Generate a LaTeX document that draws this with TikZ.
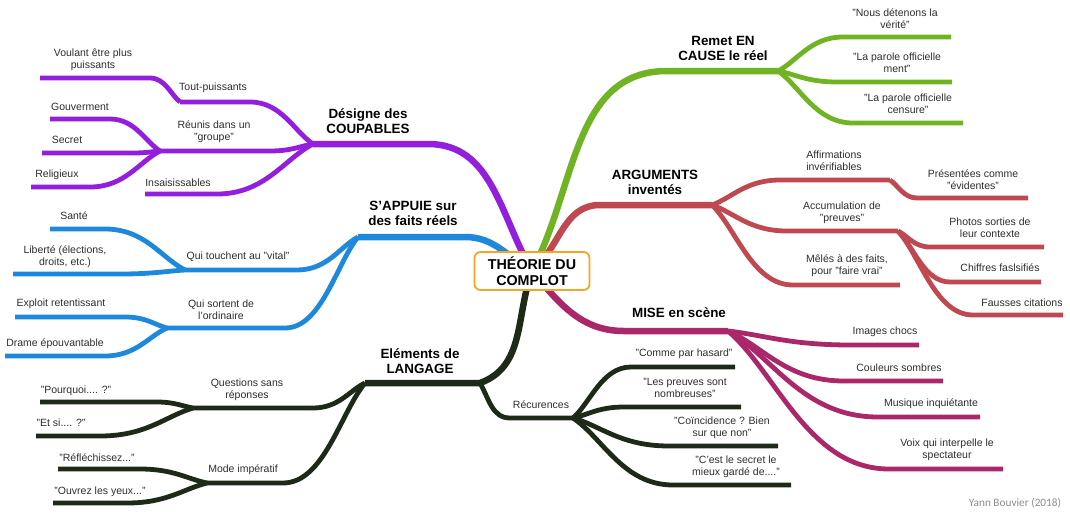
\documentclass[tikz,border=0pt]{standalone}
\usepackage{fontspec}
\setmainfont{Liberation Sans}
\newfontfamily\signfont{Carlito}
\usetikzlibrary{calc}
\definecolor{cCoup}{RGB}{148,30,222}
\definecolor{cAppui}{RGB}{30,136,220}
\definecolor{cLang}{RGB}{30,42,24}
\definecolor{cRemet}{RGB}{112,180,35}
\definecolor{cArgu}{RGB}{192,72,80}
\definecolor{cMise}{RGB}{170,40,105}
\definecolor{cBox}{RGB}{245,165,35}
\definecolor{txt}{RGB}{45,45,45}
\tikzset{
	main/.style={line width=6.5pt},
	twig/.style={line width=4.8pt},
	fan/.style={to path={let \p1=(\tikztostart), \p2=(\tikztotarget) in
		.. controls ($(\p1)!0.3!(\p2)$) and ({0.5*\x1+0.5*\x2},\y2) .. (\p2)}},
	lbl/.style={font=\fontsize{10.5}{12}\selectfont,align=center,text=txt,inner sep=0pt},
	head/.style={font=\bfseries\fontsize{13.4}{15}\selectfont,align=center,inner sep=0pt},
	centre/.style={draw=cBox,line width=1.8pt,rounded corners=6pt,fill=white,minimum width=115pt,minimum height=38pt,align=center,font=\bfseries\fontsize{14.3}{15.5}\selectfont}
}
\begin{document}
\begin{tikzpicture}[x=1pt,y=-1pt]
	\useasboundingbox (0,0) rectangle (1070,517);
	\coordinate (C) at (532,271);
	% horizontal part of every branch: name / near x / far x / y
	\foreach \nm/\xa/\xb/\yy in {coup/428/313/144, tout/250/180/102, volt/150/40/78, reun/270/160/151, gouv/110/50/119, secr/133/42/153, reli/90/31/187, insa/217/145/194,
		appui/465/358/237, vital/297/185/270, sante/105/50/229, liber/120/13/274, ordin/285/167/328, explo/125/15/317, drame/105/5/356,
		lang/480/365/383, recur/510/573/418, comme/631/735/367, preuv/624/741/407, coinc/669/778/446, garde/673/791/485,
		quest/313/193/408, pourq/157/40/402, etsi/100/36/436, mode/283/207/483, refle/140/58/469, ouvr/127/53/503,
		remet/667/778/71, nous/843/951/37, ment/837/952/82, cens/853/963/123,
		argu/600/712/205, affi/780/890/180, pres/917/1028/198, accu/787/898/231, photo/930/1044/247, chif/950/1041/282, faus/973/1063/315, mele/793/900/285,
		mise/624/728/331, img/851/919/345, coul/844/943/381, musi/878/980/417, voix/889/1003/469}{
		\coordinate (\nm a) at (\xa,\yy);
		\coordinate (\nm b) at (\xb,\yy);
	}

	% Désigne des coupables
	\draw[cCoup,main] (C) to[out=120,in=0] (coupa) -- (coupb);
	\foreach \p/\c in {coup/tout,coup/reun,coup/insa,tout/volt,reun/gouv,reun/secr,reun/reli}
		\draw[cCoup,twig] (\p b) to[fan] (\c a) -- (\c b);

	% S'appuie sur des faits reels
	\draw[cAppui,main] (C) to[out=150,in=0] (appuia) -- (appuib);
	\foreach \p/\c in {appui/vital,appui/ordin,vital/sante,vital/liber,ordin/explo,ordin/drame}
		\draw[cAppui,twig] (\p b) to[fan] (\c a) -- (\c b);

	% Elements de langage
	\draw[cLang,main] (C) to[out=-110,in=20] (langa) -- (langb);
	\draw[cLang,twig] (langa) to[out=-60,in=180] (recura) -- (recurb);
	\foreach \c in {comme,preuv,coinc,garde}
		\draw[cLang,twig] (recurb) to[fan] (\c a) -- (\c b);
	\foreach \p/\c in {lang/quest,lang/mode,quest/pourq,quest/etsi,mode/refle,mode/ouvr}
		\draw[cLang,twig] (\p b) to[fan] (\c a) -- (\c b);

	% Remet en cause le reel
	\draw[cRemet,main] (C) to[out=62,in=180] (remeta) -- (remetb);
	\foreach \c in {nous,ment,cens}
		\draw[cRemet,twig] (remetb) to[fan] (\c a) -- (\c b);

	% Arguments inventes
	\draw[cArgu,main] (C) to[out=40,in=180] (argua) -- (argub);
	\foreach \p/\c in {argu/affi,argu/accu,argu/mele,affi/pres,accu/photo,accu/chif,accu/faus}
		\draw[cArgu,twig] (\p b) to[fan] (\c a) -- (\c b);

	% Mise en scene
	\draw[cMise,main] (C) to[out=-50,in=180] (misea) -- (miseb);
	\foreach \c in {img,coul,musi,voix}
		\draw[cMise,twig] (miseb) to[fan] (\c a) -- (\c b);

	\node[centre] (theorie) at (C) {THÉORIE DU\\COMPLOT};

	\node[head] (hcoup) at (368,121) {Désigne des\\COUPABLES};
	\node[head] (happui) at (413,213) {S'APPUIE sur\\des faits réels};
	\node[head] (hlang) at (420,361) {Eléments de\\LANGAGE};
	\node[head] (hremet) at (723,48) {Remet EN\\CAUSE le réel};
	\node[head] (hargu) at (655,182) {ARGUMENTS\\inventés};
	\node[head] (hmise) at (679,313) {MISE en scène};

	\node[lbl] (ltout) at (213,88) {Tout-puissants};
	\node[lbl] (lvolt) at (93,60) {Voulant être plus\\puissants};
	\node[lbl] (lreun) at (214,132) {Réunis dans un\\"groupe"};
	\node[lbl] (lgouv) at (80,107) {Gouverment};
	\node[lbl] (lsecr) at (67,140) {Secret};
	\node[lbl] (lreli) at (57,175) {Religieux};
	\node[lbl] (linsa) at (178,183) {Insaisissables};

	\node[lbl] (lvital) at (238,257) {Qui touchent au "vital"};
	\node[lbl] (lsante) at (74,216) {Santé};
	\node[lbl] (lliber) at (65,257) {Liberté (élections,\\droits, etc.)};
	\node[lbl] (lordin) at (221,310) {Qui sortent de\\l'ordinaire};
	\node[lbl] (lexplo) at (61,304) {Exploit retentissant};
	\node[lbl] (ldrame) at (55,344) {Drame épouvantable};

	\node[lbl] (lquest) at (247,390) {Questions sans\\réponses};
	\node[lbl] (lpourq) at (76,391) {"Pourquoi.... ?"};
	\node[lbl] (letsi) at (61,423) {"Et si.... ?"};
	\node[lbl] (lmode) at (243,470) {Mode impératif};
	\node[lbl] (lrefle) at (97,458) {"Réfléchissez..."};
	\node[lbl] (louvr) at (100,492) {"Ouvrez les yeux..."};
	\node[lbl] (lrecur) at (541,405) {Récurences};
	\node[lbl] (lcomme) at (684,354) {"Comme par hasard"};
	\node[lbl] (lpreuv) at (685,388) {"Les preuves sont\\nombreuses"};
	\node[lbl] (lcoinc) at (722,428) {"Coïncidence ? Bien\\sur que non"};
	\node[lbl] (lgarde) at (736,467) {"C'est le secret le\\mieux gardé de...."};

	\node[lbl] (lnous) at (895,19) {"Nous détenons la\\vérité"};
	\node[lbl] (lment) at (897,63) {"La parole officielle\\ment"};
	\node[lbl] (lcens) at (908,104) {"La parole officielle\\censure"};

	\node[lbl] (laffi) at (834,161) {Affirmations\\invérifiables};
	\node[lbl] (lpres) at (973,180) {Présentées comme\\"évidentes"};
	\node[lbl] (laccu) at (842,213) {Accumulation de\\"preuves"};
	\node[lbl] (lphoto) at (990,228) {Photos sorties de\\leur contexte};
	\node[lbl] (lchif) at (1000,268) {Chiffres faslsifiés};
	\node[lbl] (lfaus) at (1022,303) {Fausses citations};
	\node[lbl] (lmele) at (847,266) {Mêlés à des faits,\\pour "faire vrai"};

	\node[lbl] (limg) at (885,332) {Images chocs};
	\node[lbl] (lcoul) at (899,368) {Couleurs sombres};
	\node[lbl] (lmusi) at (931,404) {Musique inquiétante};
	\node[lbl] (lvoix) at (947,450) {Voix qui interpelle le\\spectateur};

	\node[font=\signfont\fontsize{11.3}{12}\selectfont,text=black!45,inner sep=0pt] (sign) at (1015,503) {Yann Bouvier (2018)};
\end{tikzpicture}
\end{document}
